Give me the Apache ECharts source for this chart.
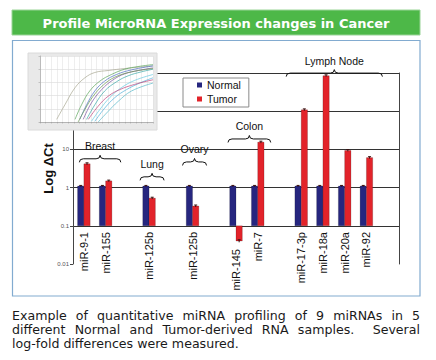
<!DOCTYPE html>
<html>
<head>
<meta charset="utf-8">
<script src="https://cdn.jsdelivr.net/npm/echarts@6/dist/echarts.min.js"></script>
<style>
  html, body { margin: 0; padding: 0; background: #fff; }
  #wrap { position: relative; width: 436px; height: 360px; overflow: hidden; }
  #chart { position: absolute; left: 0; top: 0; width: 436px; height: 360px; }
  #caption { position: absolute; left: 12px; top: 309px; width: 408px;
    font-family: "DejaVu Sans", Verdana, sans-serif; font-size: 12.6px; line-height: 13.8px; color: #1a1a1a; }
  #caption div.j { text-align: justify; text-align-last: justify; white-space: nowrap; }
</style>
</head>
<body>
<div id="wrap">
  <div id="chart"></div>
  <div id="caption">
    <div class="j">Example of quantitative miRNA profiling of 9 miRNAs in 5</div>
    <div class="j">different Normal and Tumor-derived RNA samples.&nbsp; Several</div>
    <div>log-fold differences were measured.</div>
  </div>
</div>
<script>
// ---------------- DATA ----------------
const titleText = 'Profile MicroRNA Expression changes in Cancer';
const categories = ['miR-9-1', 'miR-155', '', 'miR-125b', '', 'miR-125b', '', 'miR-145', 'miR-7', '', 'miR-17-3p', 'miR-18a', 'miR-20a', 'miR-92', ''];
const normalValues = [1.1, 1.1, null, 1.1, null, 1.1, null, 1.1, 1.1, null, 1.1, 1.1, 1.1, 1.1, null];
const tumorValues  = [4.2, 1.5, null, 0.53, null, 0.33, null, 0.04, 15.5, null, 109, 850, 9.4, 6.1, null];
const normalErr    = [0.04, 0.04, null, 0.04, null, 0.04, null, 0.04, 0.04, null, 0.04, 0.04, 0.04, 0.04, null];
const tumorErr     = [0.25, 0.07, null, 0.03, null, 0.02, null, 0.003, 0.9, null, 6, 45, 0.5, 0.35, null];
const seriesNames = ['Normal', 'Tumor'];
const groupNames = ['Breast', 'Lung', 'Ovary', 'Colon', 'Lymph Node'];
const groupStart = [0, 3, 5, 7, 10];
const groupEnd   = [1, 3, 5, 8, 13];
// inset amplification plot (cycle, fluorescence)
const ampCurves = [
  [[5.9,0.04],[8.8,0.26],[12.4,0.52],[15.9,0.67],[19.4,0.75],[24.1,0.78],[30,0.81],[40,0.85]],
  [[12.4,0.04],[14.7,0.26],[17.6,0.47],[21.2,0.62],[25.3,0.72],[30,0.80],[34.7,0.84],[40,0.87]],
  [[14.1,0.04],[16.5,0.26],[19.4,0.47],[22.9,0.62],[27.1,0.72],[32.4,0.79],[40,0.85]],
  [[15.3,0.04],[18.2,0.29],[21.8,0.49],[25.9,0.64],[30,0.73],[34.7,0.78],[40,0.82]],
  [[16.5,0.04],[19.4,0.26],[22.9,0.47],[27.1,0.61],[31.2,0.70],[35.9,0.76],[40,0.80]],
  [[18.2,0.01],[21.2,0.19],[24.7,0.37],[28.8,0.52],[33.5,0.63],[40,0.72]],
  [[19.4,0.01],[22.9,0.21],[26.5,0.37],[30.6,0.49],[35.3,0.59],[40,0.67]],
  [[17.1,0.04],[20.6,0.24],[24.1,0.39],[28.2,0.49],[33.5,0.57],[40,0.64]],
  [[20.6,0.0],[24.1,0.16],[27.6,0.31],[32.4,0.47],[40,0.59]],
  [[13.5,0.0],[15.9,0.19],[18.8,0.39],[22.4,0.56],[26.5,0.68],[32.4,0.76],[40,0.81]]
];

// ---------------- STYLE / LAYOUT ----------------
const COLORS = { normal: '#26267f', tumor: '#e2232a' };
const curveColors = ['#a8a690', '#5aa55a', '#4a6fc0', '#7a4fa0', '#3aa8a8', '#66c8e0', '#4fb0d8', '#c0407a', '#58b8c8', '#6a9a50'];
const BAR_BASE = 0.1;
const BAR_W = 6.3;
const braceLevel = [4.6, 1.55, 3.8, 15.2, 805];
const braceOffL = [-4.5, -9, -10, -8, -15];
const braceOffR = [15.2, 15, 14, 13, 16];
const FONT = 'Liberation Sans';

function barRenderer(side, errs) {
  return function (params, api) {
    const i = api.value(0), v = api.value(1);
    const pTop = api.coord([i, v]);
    const pBase = api.coord([i, BAR_BASE]);
    const x = side < 0 ? pTop[0] - BAR_W : pTop[0];
    const y0 = Math.min(pTop[1], pBase[1]);
    const h = Math.abs(pBase[1] - pTop[1]);
    const children = [{
      type: 'rect', shape: { x: x, y: y0, width: BAR_W, height: h },
      style: { fill: api.visual('color'), stroke: 'rgba(0,0,0,0.35)', lineWidth: 0.5 }
    }];
    const e = errs[i];
    if (e) {
      const hi = api.coord([i, v + e])[1];
      const lo = api.coord([i, Math.max(v - e, 1e-6)])[1];
      const cx = x + BAR_W / 2;
      children.push({ type: 'line', shape: { x1: cx, y1: hi, x2: cx, y2: lo }, style: { stroke: '#3a1010', lineWidth: 1 } });
      children.push({ type: 'line', shape: { x1: cx - 1.5, y1: hi, x2: cx + 1.5, y2: hi }, style: { stroke: '#3a1010', lineWidth: 1 } });
    }
    return { type: 'group', children: children };
  };
}

function toData(vals) {
  const out = [];
  vals.forEach(function (v, i) { if (v != null) out.push([i, v]); });
  return out;
}

const chart = echarts.init(document.getElementById('chart'), null, { renderer: 'svg', width: 436, height: 360 });

const series = [
  { name: seriesNames[0], type: 'custom', xAxisIndex: 0, yAxisIndex: 0, z: 2,
    itemStyle: { color: COLORS.normal }, encode: { x: 0, y: 1 },
    data: toData(normalValues), renderItem: barRenderer(-1, normalErr) },
  { name: seriesNames[1], type: 'custom', xAxisIndex: 0, yAxisIndex: 0, z: 2,
    itemStyle: { color: COLORS.tumor }, encode: { x: 0, y: 1 },
    data: toData(tumorValues), renderItem: barRenderer(1, tumorErr) },
  { name: 'groups', type: 'custom', xAxisIndex: 0, yAxisIndex: 0, z: 3, silent: true,
    encode: { x: 0, y: 2 },
    data: groupNames.map(function (n, i) { return [groupStart[i], groupEnd[i], braceLevel[i]]; }),
    renderItem: function (params, api) {
      const gi = params.dataIndex;
      const a = api.coord([groupStart[gi], braceLevel[gi]]);
      const b = api.coord([groupEnd[gi], braceLevel[gi]]);
      const x0 = a[0] + braceOffL[gi], x1 = b[0] + braceOffR[gi];
      const yb = a[1], ym = yb - 3.5, yt = yb - 7, xc = (x0 + x1) / 2, r = 4;
      const d = 'M' + x0 + ' ' + yb + ' Q' + x0 + ' ' + ym + ' ' + (x0 + r) + ' ' + ym +
        ' L' + (xc - r) + ' ' + ym + ' Q' + xc + ' ' + ym + ' ' + xc + ' ' + yt +
        ' Q' + xc + ' ' + ym + ' ' + (xc + r) + ' ' + ym +
        ' L' + (x1 - r) + ' ' + ym + ' Q' + x1 + ' ' + ym + ' ' + x1 + ' ' + yb;
      return { type: 'group', children: [
        { type: 'path', shape: { pathData: d }, style: { fill: 'none', stroke: '#111', lineWidth: 1 } },
        { type: 'text', x: xc, y: yb - 16, style: { text: groupNames[gi], align: 'center', verticalAlign: 'middle',
          fontSize: 10.5, fontFamily: FONT, fill: '#111' } }
      ] };
    }
  }
];

ampCurves.forEach(function (c, k) {
  series.push({ type: 'line', xAxisIndex: 1, yAxisIndex: 2, data: c, showSymbol: false, symbol: 'none',
    smooth: 0.4, silent: true, z: 12, lineStyle: { width: 0.7, color: curveColors[k] } });
});

const option = {
  animation: false,
  backgroundColor: '#fff',
  graphic: { elements: [
    { type: 'rect', z: 0, shape: { x: 12, y: 10, width: 408, height: 25 },
      style: { fill: '#4db848', stroke: '#9ad497', lineWidth: 1 } },
    { type: 'text', z: 1, x: 216, y: 23, style: { text: titleText, align: 'center', verticalAlign: 'middle',
      fill: '#ffffff', fontSize: 13, fontWeight: 'bold', fontFamily: 'DejaVu Sans' } },
    { type: 'rect', z: 0, shape: { x: 12.5, y: 40.5, width: 407.5, height: 255.5 },
      style: { fill: 'none', stroke: '#82abd0', lineWidth: 1.2 } },
    { type: 'rect', z: 9, shape: { x: 28, y: 53, width: 129, height: 77 },
      style: { fill: '#e9e9e9', stroke: '#dadada', lineWidth: 1 } }
  ] },
  legend: { data: seriesNames, orient: 'vertical', left: 183, top: 78, padding: [1, 8, 2, 14],
    itemGap: 2, itemWidth: 5, itemHeight: 5, icon: 'rect', backgroundColor: '#fff',
    borderColor: '#8a8a8a', borderWidth: 1, z: 6,
    textStyle: { fontSize: 10.5, fontFamily: FONT, color: '#111', lineHeight: 12 } },
  grid: [
    { left: 73, right: 37, top: 73, bottom: 96 },
    { left: 40, top: 56, width: 113, height: 66, show: true, backgroundColor: '#fff', borderWidth: 0, z: 10 }
  ],
  xAxis: [
    { type: 'category', gridIndex: 0, data: categories.map(function (c) {
        return c === 'miR-145' ? { value: c, textStyle: { padding: [5, 17, 0, 0] } } : c; }),
      boundaryGap: true, axisLine: { show: false }, axisTick: { show: false }, splitLine: { show: false },
      axisLabel: { rotate: 90, margin: -32, interval: 0, fontSize: 11, fontFamily: FONT, color: '#111', padding: [5, 0, 0, 0] } },
    { type: 'value', gridIndex: 1, min: 0, max: 40, interval: 2, z: 11,
      axisLine: { lineStyle: { color: '#999', width: 0.6 } }, axisTick: { show: true, length: 1.5, lineStyle: { color: '#999', width: 0.5 } },
      axisLabel: { show: false }, splitLine: { show: true, lineStyle: { color: '#dcdcdc', width: 0.5 } } }
  ],
  yAxis: [
    { type: 'log', logBase: 10, gridIndex: 0, min: 0.01, max: 1000,
      axisLine: { show: true, lineStyle: { color: '#444', width: 1 } },
      axisTick: { show: true, length: 3, lineStyle: { color: '#444' } },
      axisLabel: { fontSize: 6, color: '#555', margin: 4, fontFamily: FONT },
      splitLine: { show: true, showMinLine: false, lineStyle: { color: '#333', width: 1 } },
      name: 'Log \u0394Ct', nameLocation: 'middle', nameGap: 18, nameRotate: 90, nameMoveOverlap: false,
      nameTextStyle: { fontSize: 13, fontWeight: 'bold', fontFamily: FONT, color: '#111' } },
    { type: 'log', logBase: 10, gridIndex: 0, min: 0.01, max: 1000, position: 'right',
      axisLine: { show: true, lineStyle: { color: '#444', width: 1 } },
      axisTick: { show: false }, axisLabel: { show: false }, splitLine: { show: false } },
    { type: 'value', gridIndex: 1, min: 0, max: 1, interval: 0.2, z: 11,
      axisLine: { show: true, lineStyle: { color: '#999', width: 0.6 } }, axisTick: { show: true, length: 1.5, lineStyle: { color: '#999', width: 0.5 } },
      axisLabel: { show: false }, splitLine: { show: true, lineStyle: { color: '#d0d0d0', width: 0.5 } } }
  ],
  series: series
};
chart.setOption(option);
</script>
</body>
</html>
